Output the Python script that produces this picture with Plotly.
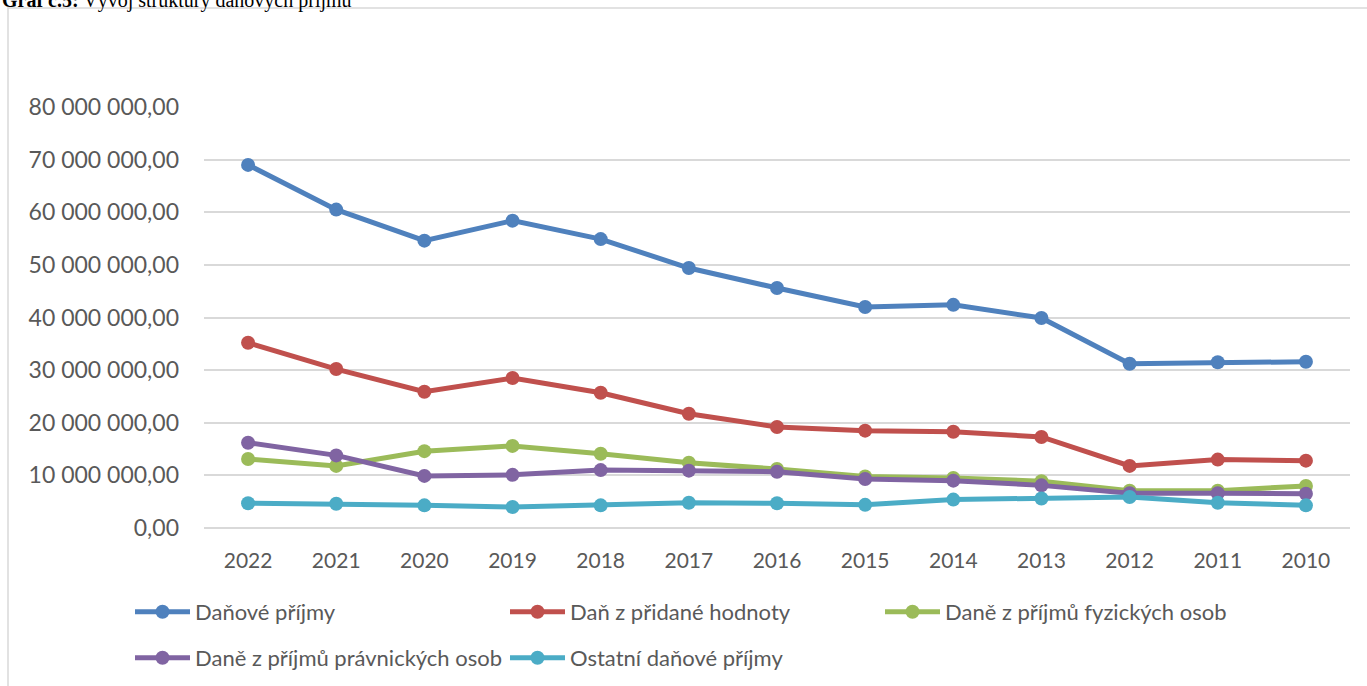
import plotly.graph_objects as go

years = ["2022", "2021", "2020", "2019", "2018", "2017", "2016", "2015", "2014", "2013", "2012", "2011", "2010"]

danove_prijmy = [69.0e6, 60.5e6, 54.6e6, 58.4e6, 54.9e6, 49.4e6, 45.6e6, 42.0e6, 42.4e6, 39.9e6, 31.2e6, 31.5e6, 31.6e6]
dph = [35.2e6, 30.2e6, 25.9e6, 28.5e6, 25.7e6, 21.7e6, 19.2e6, 18.5e6, 18.3e6, 17.3e6, 11.8e6, 13.0e6, 12.8e6]
dpfo = [13.1e6, 11.8e6, 14.6e6, 15.6e6, 14.1e6, 12.4e6, 11.2e6, 9.8e6, 9.5e6, 8.9e6, 7.1e6, 7.1e6, 8.0e6]
dppo = [16.2e6, 13.8e6, 9.9e6, 10.1e6, 11.0e6, 10.9e6, 10.7e6, 9.3e6, 9.0e6, 8.1e6, 6.6e6, 6.6e6, 6.5e6]
ostatni = [4.7e6, 4.6e6, 4.3e6, 4.0e6, 4.3e6, 4.8e6, 4.7e6, 4.4e6, 5.4e6, 5.6e6, 5.9e6, 4.8e6, 4.3e6]

series = [
    ("Daňové příjmy", danove_prijmy, "#4F81BD", "legend"),
    ("Daň z přidané hodnoty", dph, "#C0504D", "legend"),
    ("Daně z příjmů fyzických osob", dpfo, "#9BBB59", "legend"),
    ("Daně z příjmů právnických osob", dppo, "#8064A2", "legend2"),
    ("Ostatní daňové příjmy", ostatni, "#4BACC6", "legend2"),
]

FONT = "Lato, 'Open Sans', sans-serif"
W, H = 1367, 686
L, R, T, B = 204, 17, 107, 158
PW, PH = W - L - R, H - T - B

def px_x(p):
    return (p - L) / PW

def px_y(p):
    return (H - B - p) / PH

fig = go.Figure()
for name, vals, color, lg in series:
    fig.add_trace(go.Scatter(
        x=years, y=vals, name=name, mode="lines+markers",
        line=dict(color=color, width=5),
        marker=dict(color=color, size=14),
        legend=lg,
    ))

legend_common = dict(
    orientation="h", xanchor="left", yanchor="middle",
    font=dict(family=FONT, size=22, color="#595959"),
    entrywidth=305, entrywidthmode="pixels", itemwidth=55,
    bgcolor="rgba(0,0,0,0)", itemclick=False, itemdoubleclick=False,
)

fig.update_layout(
    width=W, height=H,
    margin=dict(l=L, r=R, t=T, b=B, autoexpand=False),
    paper_bgcolor="white", plot_bgcolor="white",
    separators=", ",
    font=dict(family=FONT, size=20, color="#595959"),
    xaxis=dict(
        type="category", range=[-0.5, len(years) - 0.5],
        showgrid=False, zeroline=False, automargin=False,
        showline=False, ticks="", ticklabelstandoff=18,
        tickfont=dict(family=FONT, size=21, color="#595959"),
    ),
    yaxis=dict(
        range=[0, 80e6], dtick=10e6, tickformat=",.2f", automargin=False,
        showgrid=True, gridcolor="#D9D9D9", gridwidth=1.5,
        zeroline=True, zerolinecolor="#D9D9D9", zerolinewidth=1.5,
        showline=False, ticks="", ticklabelstandoff=24,
        tickfont=dict(family=FONT, size=23, color="#595959"),
    ),
    legend=dict(x=px_x(130), y=px_y(612), **legend_common),
    legend2=dict(x=px_x(130), y=px_y(658), **legend_common),
    showlegend=True,
)

fig.add_shape(
    type="rect", xref="paper", yref="paper",
    x0=px_x(8), x1=px_x(W + 20), y0=px_y(H + 20), y1=px_y(8),
    line=dict(color="#D9D9D9", width=1.5), fillcolor="rgba(0,0,0,0)", layer="below",
)

fig.add_annotation(
    xref="paper", yref="paper", x=px_x(0), y=px_y(0),
    xanchor="left", yanchor="middle", showarrow=False,
    text="<b>Graf č.5:</b> Vývoj struktury daňových příjmů",
    font=dict(family="Liberation Serif, 'Times New Roman', serif", size=20, color="black"),
)

fig.write_html(
    "out.html",
    config={"displayModeBar": False},
    post_script="document.body.style.margin='0';document.body.style.overflow='hidden';",
)
